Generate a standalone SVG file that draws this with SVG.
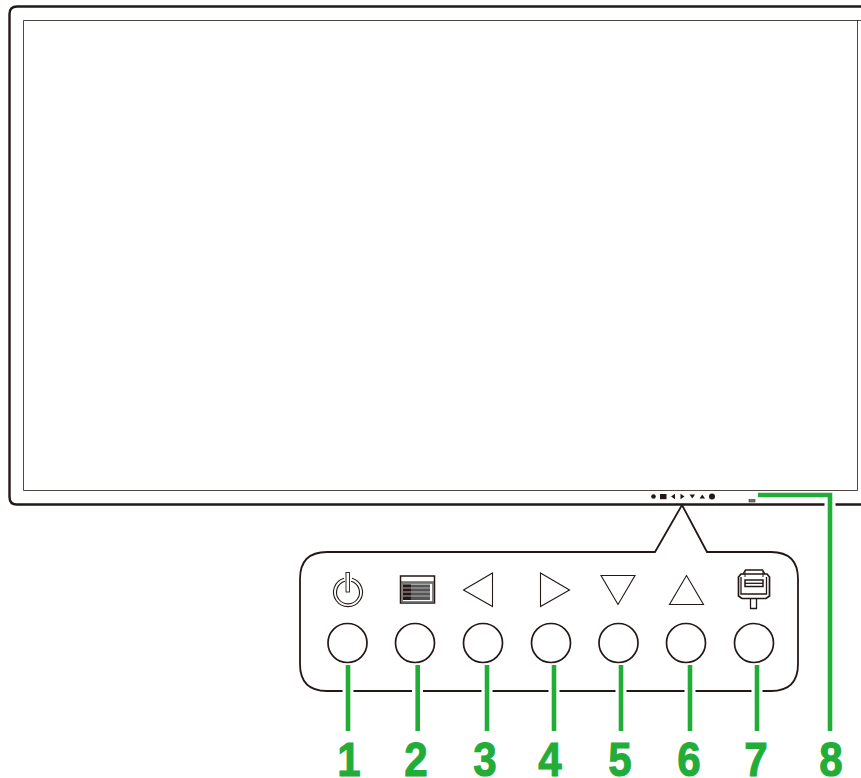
<svg xmlns="http://www.w3.org/2000/svg" width="861" height="778" viewBox="0 0 861 778">
<style>
.k{fill:none;stroke:#231815}
.t{fill:none;stroke:#231815;stroke-width:1.1;stroke-linejoin:miter}
.btn{fill:none;stroke:#231815;stroke-width:1.7}
.g{fill:none;stroke:#22ac38;stroke-width:4.6}
.halo{fill:none;stroke:#fff;stroke-width:11}
.n{font-family:"Liberation Sans",Arial,sans-serif;font-weight:700;font-size:49px;fill:#22ac38;text-anchor:middle;stroke:#22ac38;stroke-width:1.1}
.d{fill:#231815}
</style>
<rect width="861" height="778" fill="#fff"/>
<g id="monitor">
<path class="k" stroke-width="2.4" d="M861 6.500H17Q9.500 6.500 9.500 14V497Q9.500 504.500 17 504.500H861"/>
<path class="k" stroke-width="1" stroke-opacity=".8" d="M861 20.500H23.500V490.500H857.500V20.500"/>
</g>
<g id="bezel-controls">
<circle class="d" cx="653.500" cy="496.500" r="2.300"/>
<rect class="d" x="660" y="494" width="6.500" height="5.200"/>
<path class="d" d="M671 496.500l4-2.800v5.600z"/>
<path class="d" d="M684.500 496.500l-4-2.800v5.600z"/>
<path class="d" d="M689.500 494.500h5.500l-2.700 4z"/>
<path class="d" d="M699.500 498.500h5.500l-2.700-4z"/>
<circle class="d" cx="712" cy="496.500" r="3"/>
<rect x="749" y="499.500" width="6" height="2.500" fill="#777" stroke="#231815" stroke-width=".5"/>
</g>
<g id="panel">
<path class="k" stroke-width="1.800" d="M655 552H327Q300 552 300 579V664Q300 691 327 691H771Q798 691 798 664V579Q798 552 771 552H707L682 505Z"/>
</g>
<g id="button-1"><circle class="btn" cx="347.500" cy="643" r="19.500"/>
<path class="t" stroke-width=".9" d="M344 578.200A14.500 14.500 0 1 0 352 578.200M345 581.300A11.500 11.500 0 1 0 351 581.300"/>
<rect x="346" y="572.500" width="3.500" height="19.500" fill="#fff" stroke="#231815" stroke-width=".9"/></g>
<g id="button-2"><circle class="btn" cx="415" cy="643" r="19.500"/>
<rect x="400.500" y="576" width="34" height="27" fill="none" stroke="#231815" stroke-width="1.500"/>
<path stroke="#231815" stroke-width="1" d="M401 582H434"/>
<rect x="402" y="583" width="31" height="19" fill="none" stroke="#666" stroke-width="1.600"/>
<rect x="403" y="584.500" width="27" height="15.500" fill="#555"/>
<rect x="403" y="584.500" width="8" height="15.500" fill="#231815"/>
<path stroke="#ccc" stroke-width=".8" d="M403 588h27M403 592h27M403 596h27"/>
</g>
<g id="button-3"><circle class="btn" cx="483" cy="643" r="19.500"/><path class="t" d="M463.500 590L492.500 573V606.500Z"/></g>
<g id="button-4"><circle class="btn" cx="551" cy="643" r="19.500"/><path class="t" d="M569.500 590L540.500 573V606.500Z"/></g>
<g id="button-5"><circle class="btn" cx="618.500" cy="643" r="19.500"/><path class="t" d="M601 575.500H635L618 604.500Z"/></g>
<g id="button-6"><circle class="btn" cx="686" cy="643" r="19.500"/><path class="t" d="M669.500 604.500H703.500L686.500 575.500Z"/></g>
<g id="button-7"><circle class="btn" cx="754" cy="643" r="19.500"/>
<path class="k" stroke-width="1.700" d="M738.500 577L741 574H767L769.500 577V596L766 598.500H742L738.500 596Z"/>
<path class="k" stroke-width="1.300" d="M741 577V594H766.500V577M743 574L745.500 570H762.500L765 574"/>
<path class="k" stroke-width="1" d="M745 577V570.500M763 577V570.500"/>
<rect x="745" y="580" width="18" height="6.500" fill="none" stroke="#231815" stroke-width="1.500"/>
<path class="k" stroke-width="1.300" d="M745 583.300h18"/>
<path class="k" stroke-width="1.300" d="M750.500 598.500V608.500H756.500V598.500"/></g>
<g id="connectors">
<path class="halo" d="M348 680V700M417.500 680V700M487 680V700M554 680V700M621 680V700M690 680V700M757 680V700"/>
<path class="halo" d="M830 500V510"/>
<path class="g" d="M348 665V731M417.700 665V731M487 665V731M554 665V731M621 665V731M690 665V731M757 665V731"/>
<path class="g" d="M758 495H830V731"/>
</g>
<g id="labels">
<text class="n" transform="translate(349 776) scale(.86 1)">1</text>
<text class="n" transform="translate(416 776) scale(.86 1)">2</text>
<text class="n" transform="translate(485 776) scale(.86 1)">3</text>
<text class="n" transform="translate(550 776) scale(.86 1)">4</text>
<text class="n" transform="translate(620 776) scale(.86 1)">5</text>
<text class="n" transform="translate(689 776) scale(.86 1)">6</text>
<text class="n" transform="translate(756 776) scale(.86 1)">7</text>
<text class="n" transform="translate(831 776) scale(.86 1)">8</text>
</g>
</svg>
